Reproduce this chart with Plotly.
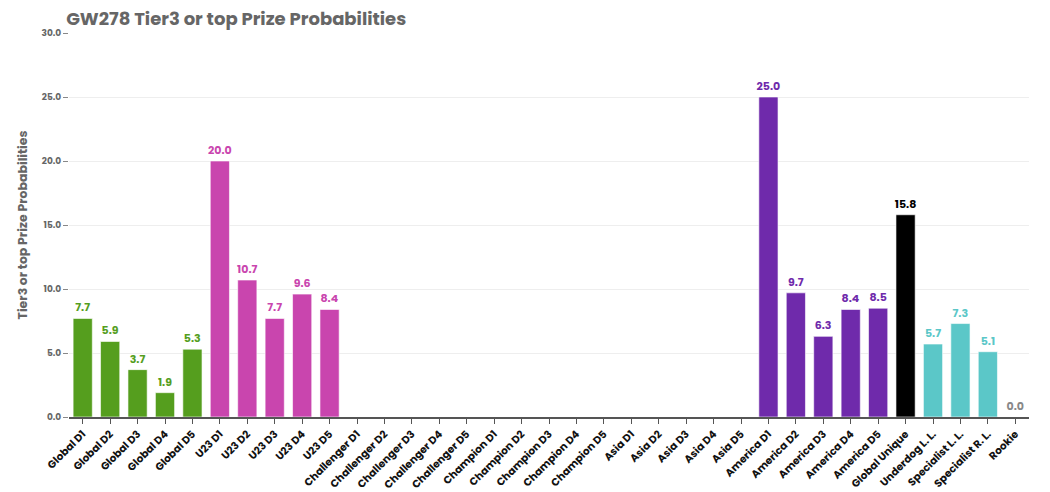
import plotly.graph_objects as go

categories = [
    "Global D1", "Global D2", "Global D3", "Global D4", "Global D5",
    "U23 D1", "U23 D2", "U23 D3", "U23 D4", "U23 D5",
    "Challenger D1", "Challenger D2", "Challenger D3", "Challenger D4", "Challenger D5",
    "Champion D1", "Champion D2", "Champion D3", "Champion D4", "Champion D5",
    "Asia D1", "Asia D2", "Asia D3", "Asia D4", "Asia D5",
    "America D1", "America D2", "America D3", "America D4", "America D5",
    "Global Unique", "Underdog L. L.", "Specialist L. L.", "Specialist R. L.", "Rookie",
]
values = [
    7.7, 5.9, 3.7, 1.9, 5.3,
    20.0, 10.7, 7.7, 9.6, 8.4,
    None, None, None, None, None,
    None, None, None, None, None,
    None, None, None, None, None,
    25.0, 9.7, 6.3, 8.4, 8.5,
    15.8, 5.7, 7.3, 5.1, 0.0,
]
group_colors = {
    "Global": "#559e1e", "U23": "#c945ae", "Challenger": "#999999",
    "Champion": "#999999", "Asia": "#999999", "America": "#6f2aab",
    "Unique": "#000000", "League": "#5bc7c8", "Rookie": "#888888",
}
groups = (["Global"] * 5 + ["U23"] * 5 + ["Challenger"] * 5 + ["Champion"] * 5
          + ["Asia"] * 5 + ["America"] * 5 + ["Unique"] + ["League"] * 3 + ["Rookie"])
colors = [group_colors[g] for g in groups]

font_family = "Poppins, Inter, 'Open Sans', sans-serif"

fig = go.Figure(go.Bar(
    x=categories, y=values,
    marker=dict(color=colors, line=dict(color="rgba(255,255,255,0.6)", width=1)),
    text=[None if v is None else f"{v:.1f}" for v in values],
    textposition="outside",
    constraintext="none",
    textfont=dict(color=colors, size=11, family=font_family, weight="bold"),
    cliponaxis=False,
))

fig.update_layout(
    width=1050, height=492,
    margin=dict(l=69, r=21, t=33, b=75),
    paper_bgcolor="white", plot_bgcolor="white",
    bargap=0.3,
    showlegend=False,
    title=dict(text="GW278 Tier3 or top Prize Probabilities", x=0.063, xanchor="left",
               y=0.963, yanchor="middle",
               font=dict(size=18, color="#666666", family=font_family, weight="bold")),
    font=dict(family=font_family),
)
fig.update_xaxes(
    tickangle=-45, tickfont=dict(size=10.5, color="#111111", family=font_family, weight="bold"),
    showline=True, linecolor="#555555", linewidth=1.5,
    ticks="outside", ticklen=5, tickcolor="#555555",
    showgrid=False, automargin=False,
)
fig.update_yaxes(
    range=[0, 30], dtick=5, tickformat=".1f",
    tickfont=dict(size=9, color="#666666", family=font_family, weight="bold"),
    ticks="outside", ticklen=5, tickcolor="#888888",
    showgrid=True, gridcolor="#eeeeee", zeroline=False, showline=False,
    automargin=False,
    title=dict(text="Tier3 or top Prize Probabilities",
               font=dict(size=12.5, color="#666666", family=font_family, weight="bold"),
               standoff=11),
)

fig.write_html("out.html")
